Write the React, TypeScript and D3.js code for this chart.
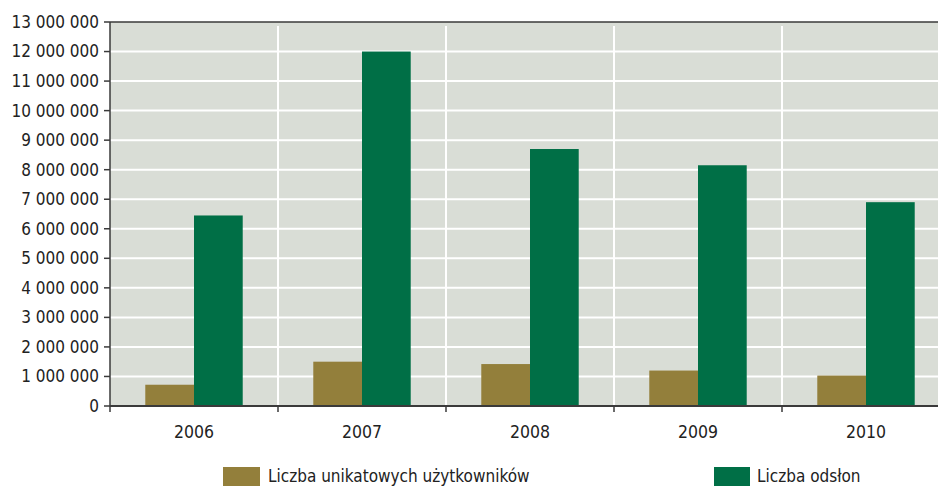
import React from "react";
import * as d3 from "d3";

const years = ["2006", "2007", "2008", "2009", "2010"];
const uniqueUsers = [720000, 1500000, 1420000, 1200000, 1030000];
const pageViews = [6450000, 12000000, 8700000, 8150000, 6900000];
const yTicks = [0, 1e6, 2e6, 3e6, 4e6, 5e6, 6e6, 7e6, 8e6, 9e6, 10e6, 11e6, 12e6, 13e6];
const seriesNames = ["Liczba unikatowych użytkowników", "Liczba odsłon"];

const W = 938;
const H = 486;
const left = 110;
const right = 950;
const top = 22;
const bottom = 406;

const BG = "#d9ddd6";
const BROWN = "#937f3b";
const GREEN = "#006f46";
const AXIS = "#3a3a3a";
const FONT = "'Liberation Sans Narrow', 'DejaVu Sans Condensed', 'Open Sans', sans-serif";

const fmt = (v: number) => d3.format(",")(v).replace(/,/g, " ");

export default function App() {
  const x = d3.scaleBand<string>().domain(years).range([left, right]).padding(0);
  const y = d3.scaleLinear().domain([0, 13e6]).range([bottom, top]);
  const bw = x.bandwidth();
  const barW = bw * 0.29;
  const boundaries = years.map((_, i) => left + i * bw).concat([right]);

  return (
    <svg width={W} height={H} style={{ position: "absolute", left: 0, top: 0, display: "block" }}>
      <rect x={left} y={top} width={right - left} height={bottom - top} fill={BG} />
      {yTicks.slice(1, -1).map((t) => (
        <line key={t} x1={left} x2={right} y1={y(t)} y2={y(t)} stroke="#ffffff" strokeWidth={2} />
      ))}
      {boundaries.slice(1, -1).map((b, i) => (
        <line key={i} x1={b} x2={b} y1={top + 4} y2={bottom} stroke="#ffffff" strokeWidth={2} />
      ))}
      {years.map((yr, i) => {
        const c = (x(yr) as number) + bw / 2;
        return (
          <g key={yr}>
            <rect x={c - barW} y={y(uniqueUsers[i])} width={barW} height={bottom - y(uniqueUsers[i])} fill={BROWN} />
            <rect x={c} y={y(pageViews[i])} width={barW} height={bottom - y(pageViews[i])} fill={GREEN} />
          </g>
        );
      })}
      <line x1={left} x2={right} y1={top} y2={top} stroke={AXIS} strokeWidth={1.5} />
      <line x1={left} x2={left} y1={top} y2={bottom} stroke={AXIS} strokeWidth={1.5} />
      <line x1={left} x2={right} y1={bottom} y2={bottom} stroke={AXIS} strokeWidth={2} />
      {yTicks.map((t) => (
        <g key={t}>
          <line x1={left - 6} x2={left} y1={y(t)} y2={y(t)} stroke={AXIS} strokeWidth={1.5} />
          <text x={left - 11} y={y(t)} dy="0.35em" textAnchor="end" fontFamily={FONT} fontSize={17} fill="#222">
            {fmt(t)}
          </text>
        </g>
      ))}
      {boundaries.map((b, i) => (
        <line key={i} x1={b} x2={b} y1={bottom} y2={bottom + 6} stroke={AXIS} strokeWidth={1.5} />
      ))}
      {years.map((yr) => (
        <text key={yr} x={(x(yr) as number) + bw / 2} y={438} textAnchor="middle" fontFamily={FONT} fontSize={17.5} fill="#222">
          {yr}
        </text>
      ))}
      <rect x={223} y={467} width={37} height={19} fill={BROWN} />
      <text x={268} y={481.5} fontFamily={FONT} fontSize={17} fill="#222">{seriesNames[0]}</text>
      <rect x={714} y={467} width={36} height={19} fill={GREEN} />
      <text x={757} y={481.5} fontFamily={FONT} fontSize={17} fill="#222">{seriesNames[1]}</text>
    </svg>
  );
}
